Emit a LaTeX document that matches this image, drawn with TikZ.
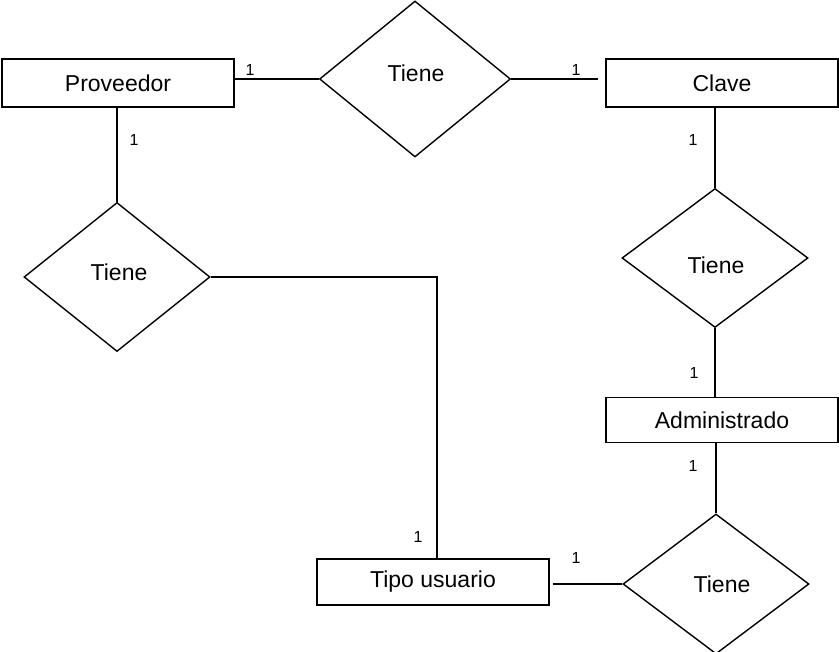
\documentclass[tikz,border=0pt]{standalone}
\usepackage{fontspec}
\setmainfont{Liberation Sans}
\usetikzlibrary{shapes.geometric}
\begin{document}
\begin{tikzpicture}[x=1pt,y=1pt,line width=1.4pt,
  ent/.style={draw,rectangle,minimum width=232pt,inner sep=0pt,font=\fontsize{23}{27}\selectfont},
  rel/.style={draw,diamond,inner sep=0pt,font=\fontsize{23}{27}\selectfont},
  lbl/.style={font=\fontsize{23}{27}\selectfont,inner sep=0pt},
  card/.style={font=\fontsize{16}{19}\selectfont,inner sep=0pt}]
\useasboundingbox (0,0) rectangle (839,-652);
\node[ent,minimum height=48pt] (P) at (118,-83) {Proveedor};
\node[ent,minimum height=48pt] (C) at (722,-83) {Clave};
\node[ent,minimum height=45pt] (A) at (722,-420) {Administrado};
\node[ent,minimum height=46pt] (T) at (433,-582) {Tipo usuario};
\node[rel,minimum width=191pt,minimum height=156pt] (D1) at (415,-79) {};
\node[lbl] (t1) at (416,-73) {Tiene};
\node[rel,minimum width=186pt,minimum height=139pt] (D2) at (715,-258) {};
\node[lbl] (t2) at (716,-265) {Tiene};
\node[rel,minimum width=186pt,minimum height=140pt] (D3) at (716,-584) {};
\node[lbl] (t3) at (722,-584) {Tiene};
\node[rel,minimum width=186pt,minimum height=149pt] (D4) at (117,-277) {};
\node[lbl] (t4) at (119,-272) {Tiene};
% connectors
\draw (D1.west -| P.east) -- (D1.west);
\draw[shorten >=7pt] (D1.east) -- (D1.east -| C.west);
\draw (D2.north |- C.south) -- (D2.north);
\draw (D2.south) -- (D2.south |- A.north);
\draw (D3.north |- A.south) -- (D3.north);
\draw[shorten <=3pt] (D3.west -| T.east) -- (D3.west);
\draw (P.south -| D4.north) -- (D4.north);
\coordinate (k) at (437,-279);
\draw (D4.east) -| (k |- T.north);
% cardinalities
\node[card] (c1) at (250,-70) {1};
\node[card] (c2) at (576,-70) {1};
\node[card] (c3) at (134,-140) {1};
\node[card] (c4) at (693,-140) {1};
\node[card] (c5) at (694,-373) {1};
\node[card] (c6) at (693,-466) {1};
\node[card] (c7) at (418,-537) {1};
\node[card] (c8) at (576,-558) {1};
\end{tikzpicture}
\end{document}
